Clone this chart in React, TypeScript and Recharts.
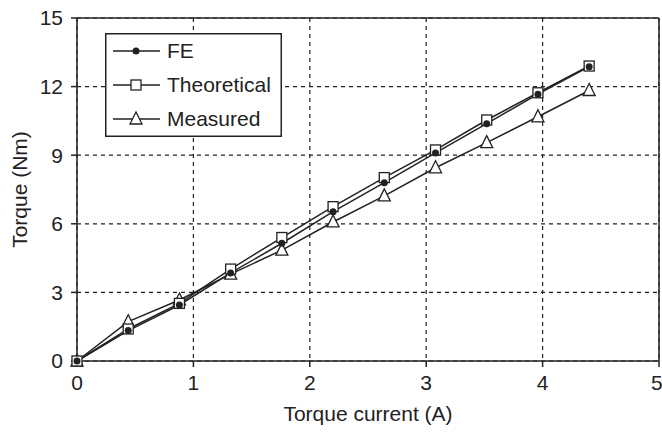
import { CartesianGrid, Legend, Line, LineChart, ReferenceLine, XAxis, YAxis } from "recharts";

const current = [0, 0.44, 0.88, 1.32, 1.76, 2.2, 2.64, 3.08, 3.52, 3.96, 4.4];
const feTorque = [0, 1.33, 2.45, 3.85, 5.15, 6.53, 7.8, 9.1, 10.38, 11.67, 12.87];
const theoreticalTorque = [0, 1.4, 2.52, 4.02, 5.4, 6.75, 8.02, 9.23, 10.54, 11.73, 12.9];
const measuredTorque = [0, 1.72, 2.67, 3.8, 4.85, 6.08, 7.22, 8.45, 9.55, 10.68, 11.83];
const xTicks = [0, 1, 2, 3, 4, 5];
const yTicks = [0, 3, 6, 9, 12, 15];

const data = current.map((c, i) => ({
  current: c,
  fe: feTorque[i],
  theoretical: theoreticalTorque[i],
  measured: measuredTorque[i],
}));

const INK = "#222";
const FONT = "'Liberation Sans', Arial, sans-serif";
const FS = 21;

function DotMark({ cx, cy }: { cx?: number; cy?: number }) {
  if (cx == null || cy == null) return null;
  return <circle cx={cx} cy={cy} r={3.5} fill={INK} stroke="none" />;
}

function SquareMark({ cx, cy }: { cx?: number; cy?: number }) {
  if (cx == null || cy == null) return null;
  return <rect x={cx - 5} y={cy - 5} width={10} height={10} fill="#fff" stroke={INK} strokeWidth={1.3} />;
}

function TriangleMark({ cx, cy }: { cx?: number; cy?: number }) {
  if (cx == null || cy == null) return null;
  return (
    <polygon
      points={`${cx},${cy - 7} ${cx - 6},${cy + 5} ${cx + 6},${cy + 5}`}
      fill="#fff"
      stroke={INK}
      strokeWidth={1.3}
    />
  );
}

const legendItems = [
  { name: "FE", mark: (x: number, y: number) => <DotMark cx={x} cy={y} /> },
  { name: "Theoretical", mark: (x: number, y: number) => <SquareMark cx={x} cy={y} /> },
  { name: "Measured", mark: (x: number, y: number) => <TriangleMark cx={x} cy={y} /> },
];

function LegendBox() {
  return (
    <svg width={177} height={104} style={{ display: "block" }}>
      <rect x={0.75} y={0.75} width={175.5} height={102.5} fill="#fff" stroke={INK} strokeWidth={1.5} />
      {legendItems.map((item, i) => {
        const y = 18 + i * 34;
        return (
          <g key={item.name}>
            <line x1={8} x2={55} y1={y} y2={y} stroke={INK} strokeWidth={1.5} />
            {item.mark(31, y)}
            <text x={62} y={y + 7} fontSize={FS} fontFamily={FONT} fill={INK}>
              {item.name}
            </text>
          </g>
        );
      })}
    </svg>
  );
}

export default function App() {
  const tick = { fontSize: FS, fill: INK, fontFamily: FONT };
  return (
    <div style={{ position: "absolute", left: 0, top: 0, background: "#fff" }}>
      <LineChart width={662} height={432} data={data} margin={{ top: 18, right: 3, bottom: 0, left: 0 }}>
        <CartesianGrid stroke={INK} strokeDasharray="4 4" strokeWidth={1.2} />
        <XAxis
          dataKey="current"
          type="number"
          domain={[0, 5]}
          ticks={xTicks}
          height={71}
          stroke={INK}
          strokeWidth={1.5}
          tick={tick}
          tickSize={6}
          tickMargin={8}
          label={{ value: "Torque current (A)", position: "insideBottom", offset: 11, fontSize: FS, fill: INK, fontFamily: FONT }}
        />
        <YAxis
          type="number"
          domain={[0, 15]}
          ticks={yTicks}
          width={77}
          stroke={INK}
          strokeWidth={1.5}
          tick={tick}
          tickSize={6}
          tickMargin={8}
          label={{ value: "Torque (Nm)", angle: -90, position: "insideLeft", offset: 20, fontSize: FS, fill: INK, fontFamily: FONT, style: { textAnchor: "middle" } }}
        />
        <ReferenceLine y={15} stroke={INK} strokeWidth={1.5} />
        <ReferenceLine x={5} stroke={INK} strokeWidth={1.5} />
        <Legend
          layout="vertical"
          align="center"
          verticalAlign="middle"
          wrapperStyle={{ left: 105, top: 33, width: 177, height: 104 }}
          content={() => <LegendBox />}
        />
        <Line
          dataKey="measured"
          type="linear"
          stroke={INK}
          strokeWidth={1.5}
          dot={(p: any) => <TriangleMark key={`m${p.index}`} cx={p.cx} cy={p.cy} />}
          isAnimationActive={false}
        />
        <Line
          dataKey="theoretical"
          type="linear"
          stroke={INK}
          strokeWidth={1.5}
          dot={(p: any) => <SquareMark key={`t${p.index}`} cx={p.cx} cy={p.cy} />}
          isAnimationActive={false}
        />
        <Line
          dataKey="fe"
          type="linear"
          stroke={INK}
          strokeWidth={1.5}
          dot={(p: any) => <DotMark key={`f${p.index}`} cx={p.cx} cy={p.cy} />}
          isAnimationActive={false}
        />
      </LineChart>
    </div>
  );
}
